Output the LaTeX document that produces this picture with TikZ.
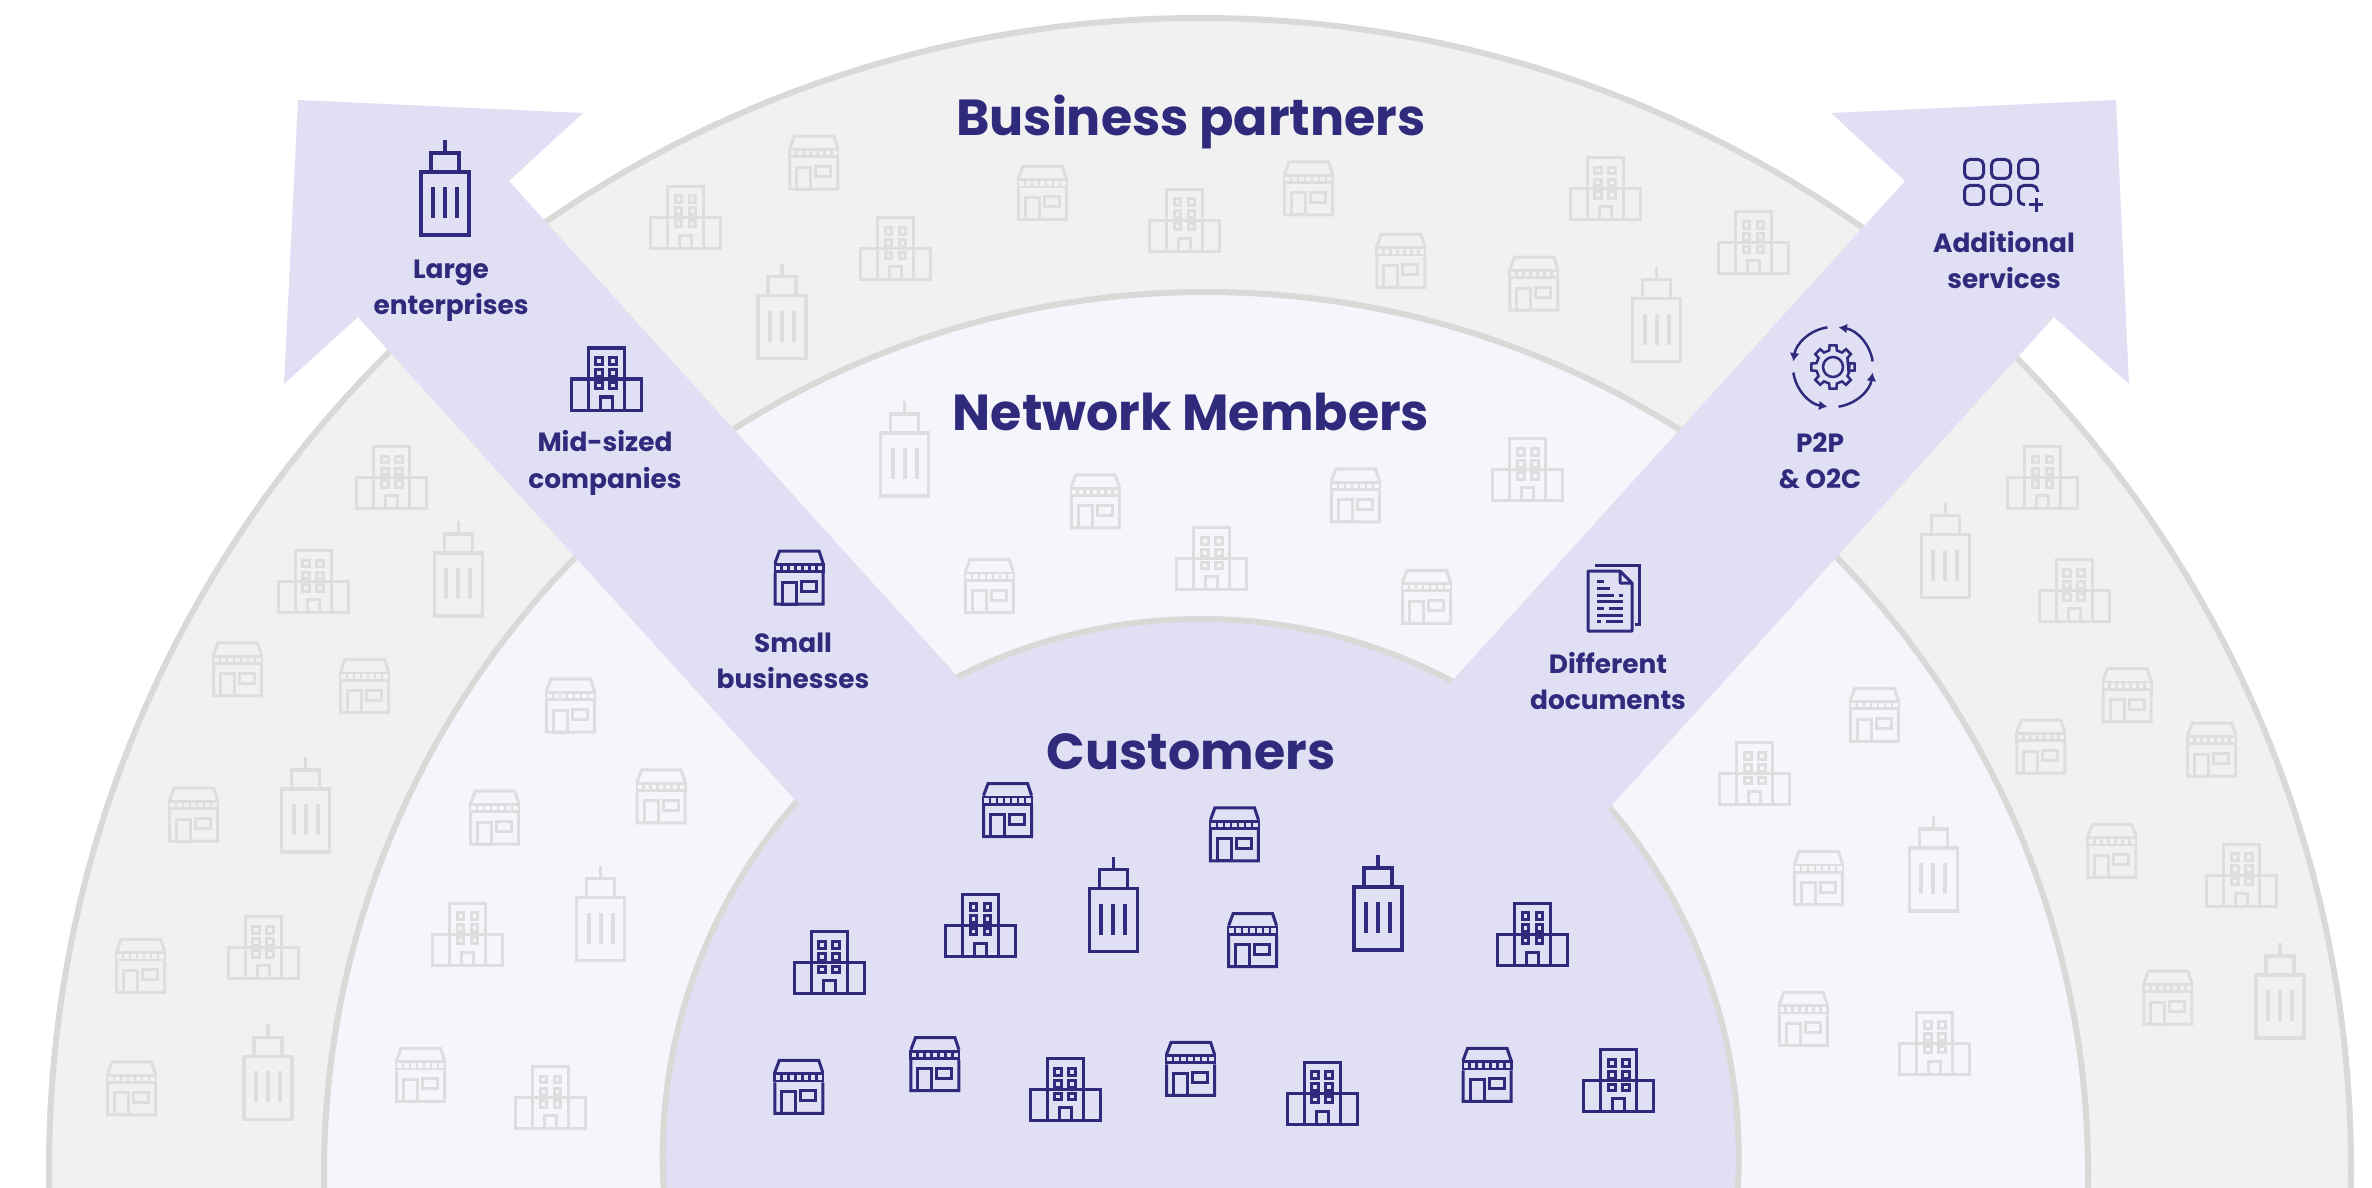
\documentclass[tikz,border=0pt]{standalone}
\usepackage{fontspec}
\setmainfont{Poppins}
\usetikzlibrary{arrows.meta}
\definecolor{inkblue}{HTML}{2F2A7C}
\definecolor{iconmist}{HTML}{DEDEDE}
\definecolor{ringline}{HTML}{D9D9D7}
\definecolor{partnerbg}{HTML}{F1F1F1}
\definecolor{memberbg}{HTML}{F5F5FB}
\definecolor{customerbg}{HTML}{E1DFF4}
\tikzset{
  ring/.style={draw=ringline, line width=0.06cm},
  headtext/.style={text=inkblue, font=\fontsize{14.4pt}{18pt}\selectfont\bfseries},
  tagtext/.style={text=inkblue, align=center, font=\fontsize{7.5pt}{10.35pt}\selectfont\bfseries},
  iconline/.style={line width=0.03cm},
  pics/tower/.style 2 args={code={
    \draw[iconline, line width=0.036cm, #1] (-24,0) rectangle (24,-63) (-14,-63) rectangle (14,-82) (0,-82) -- (0,-95);
    \foreach \x in {-12,0,12} \draw[iconline, line width=0.04cm, #1] (\x,-17) -- (\x,-48);
  }},
  pics/office/.style 2 args={code={
    \draw[iconline, #1] (-35,0) rectangle (35,-31) (-18,0) rectangle (18,-62) (-6,0) rectangle (6,-13);
    \foreach \y in {-49,-37,-24.5} \foreach \x in {-7,7}
      \draw[iconline, #1] (\x-3.3,\y-3.3) rectangle (\x+3.3,\y+3.3);
  }},
  pics/shop/.style 2 args={code={
    \draw[iconline, #1] (-24,-31) -- (-24,0) -- (24,0) -- (24,-31) (-24,-41) -- (-19.5,-53) -- (20,-53) -- (24,-41);
    \fill[#1] (-25.5,-31) rectangle (25.5,-41);
    \foreach \x in {-21,-14,...,21} \fill[#2] (\x-2.2,-38.2) rectangle (\x+2.2,-33.8);
    \draw[iconline, #1] (-17,0) rectangle (-3,-22) (2,-12.5) rectangle (17,-22.5);
  }},
  pics/gearcycle/.style={code={
    \draw[inkblue, line width=0.025cm] (22.5:17) \foreach \a in {0,45,...,315} { -- (\a-13:17) -- (\a-9:22) -- (\a+9:22) -- (\a+13:17) } -- cycle;
    \draw[inkblue, line width=0.025cm] (0,0) circle[radius=10];
    \foreach \a in {-8,-98,-188,-278}
      \draw[inkblue, line width=0.025cm, -{Latex[length=2.4pt,width=2.8pt]}] (\a:40) arc[start angle=\a, delta angle=-74, radius=40];
  }},
  pics/paperstack/.style={code={
    \draw[inkblue, iconline] (-15,-33) -- (29,-33) -- (29,26) -- (25,26);
    \draw[inkblue, iconline, line join=round] (10,-27) -- (-22,-27) -- (-22,33) -- (22,33) -- (22,-15) -- (10,-27) -- (10,-15) -- (22,-15);
    \foreach \a/\b/\y in {-13/-6/-17,-13/0/-10,-13/4/-3,9/13/-3,-13/13/3,-13/-6/10,-1/13/10,-13/13/17,-13/-9/23,-4/13/23}
      \draw[inkblue, iconline] (\a,\y) -- (\b,\y);
  }},
  pics/servicegrid/.style={code={
    \foreach \x/\y in {-27/-13,0/-13,27/-13,-27/13,0/13}
      \draw[inkblue, iconline, rounded corners=1.5pt] (\x-9.5,\y-9.5) rectangle (\x+9.5,\y+9.5);
    \draw[inkblue, iconline, rounded corners=1.5pt] (36.5,10) -- (36.5,3.5) -- (17.5,3.5) -- (17.5,22.5) -- (24,22.5);
    \draw[inkblue, iconline] (28,23) -- (42,23) (35,16) -- (35,30);
  }},
}
\begin{document}
\begin{tikzpicture}[x=0.01cm, y=-0.01cm]
\clip (0,0) rectangle (2372,1188);
\coordinate (hubouter) at (1200,1169);
\coordinate (hubmiddle) at (1206,1174);
\coordinate (hub) at (1200.7,1157);
\draw[ring, fill=partnerbg] (hubouter) circle[radius=1151];
\draw[ring, fill=memberbg] (hubmiddle) circle[radius=882];
\draw[ring, fill=customerbg] (hub) circle[radius=538];

% the two arrows
\fill[customerbg] (298,100) -- (583,113) -- (509,181) -- (957,676) -- (hub) -- (797,802) -- (358,317) -- (284,384) -- cycle;
\fill[customerbg] (2116,100) -- (1831,113) -- (1905,181) -- (1452,681) -- (hub) -- (1611,806) -- (2054,317) -- (2129,384) -- cycle;

% outer ring
\foreach \x/\y in {538/125,689/145,865/142,926/190,1014/205,157/460,241/471,128/556,93/656,87/737,1406/477,1349/511,1462/513,1396/580,1433/677}
  \pic at ({1.5128*\x},{1.5128*\y}) {shop={iconmist}{partnerbg}};
\foreach \x/\y in {453/164,592/185,783/166,1061/145,1159/181,259/336,207/405,174/647,1350/336,1371/411,1482/599}
  \pic at ({1.5128*\x},{1.5128*\y}) {office={iconmist}{partnerbg}};
\foreach \x/\y in {517/237,1095/239,303/407,202/563,177/740,1286/395,1507/686}
  \pic at ({1.5128*\x},{1.5128*\y}) {tower={iconmist}{partnerbg}};

% middle ring
\foreach \x/\y in {724/349,896/345,654/405,943/412,377/484,327/558,437/544,278/728,1239/490,1202/598,1192/691}
  \pic at ({1.5128*\x},{1.5128*\y}) {shop={iconmist}{memberbg}};
\foreach \x/\y in {1010/331,801/390,309/638,364/746,1160/532,1279/710}
  \pic at ({1.5128*\x},{1.5128*\y}) {office={iconmist}{memberbg}};
\foreach \x/\y in {598/328,397/635,1278/602}
  \pic at ({1.5128*\x},{1.5128*\y}) {tower={iconmist}{memberbg}};

% customers
\foreach \x/\y in {666/553,816/569,828/639,528/736,618/721,787/724,983/728}
  \pic at ({1.5128*\x},{1.5128*\y}) {shop={inkblue}{customerbg}};
\foreach \x/\y in {648/632,548/657,1013/638,704/741,874/743,1070/735}
  \pic at ({1.5128*\x},{1.5128*\y}) {office={inkblue}{customerbg}};
\foreach \x/\y in {736/629,911/628}
  \pic at ({1.5128*\x},{1.5128*\y}) {tower={inkblue}{customerbg}};

% arrow icons
\pic at (445,235) {tower={inkblue}{customerbg}};
\pic at (606,410) {office={inkblue}{customerbg}};
\pic at (799,604) {shop={inkblue}{customerbg}};
\pic at (1610,598) {paperstack};
\pic at (1833,367) {gearcycle};
\pic at (2001,182) {servicegrid};

\node[headtext] (partners) at (1191,122) {Business partners};
\node[headtext] (members) at (1191,412) {Network Members};
\node[headtext] (customers) at (1191,752) {Customers};
\node[tagtext] (large) at (451,291) {Large\\enterprises};
\node[tagtext] (midsized) at (605,463) {Mid-sized\\companies};
\node[tagtext] (small) at (793,661) {Small\\businesses};
\node[tagtext] (documents) at (1608,681) {Different\\documents};
\node[tagtext] (ptwop) at (1820,461) {P2P\\\& O2C};
\node[tagtext] (services) at (2004,260) {Additional\\services};
\end{tikzpicture}
\end{document}
